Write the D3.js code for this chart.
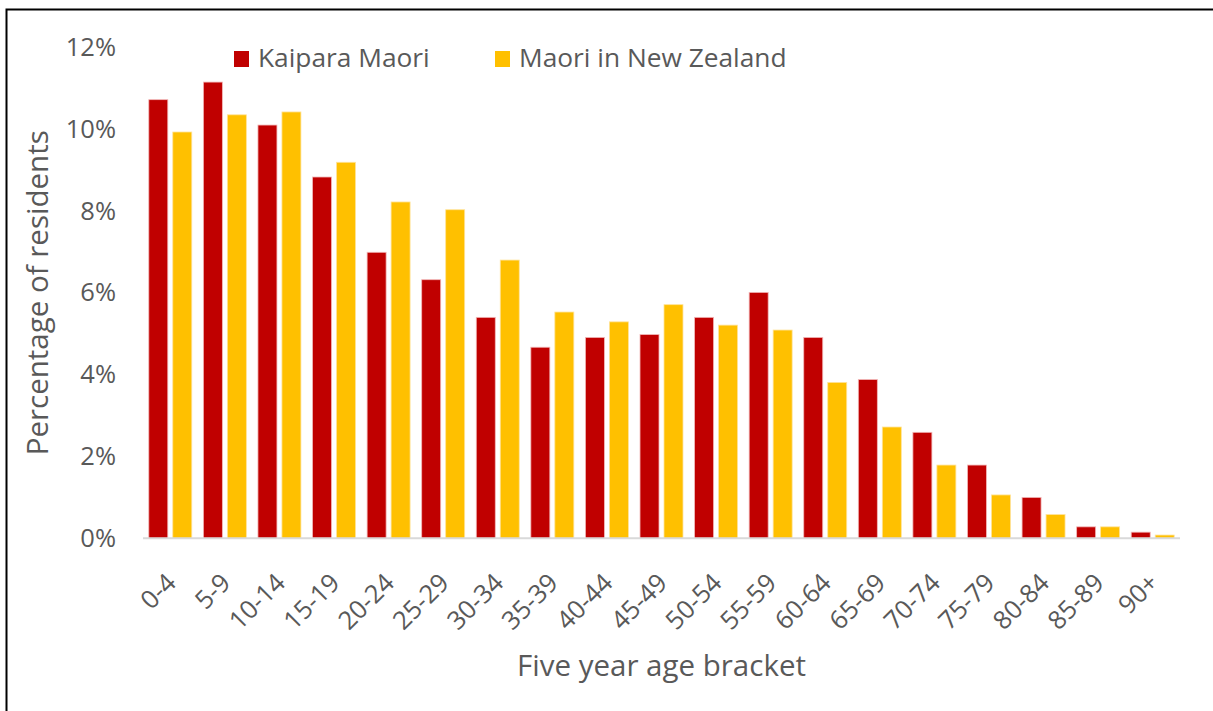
<!DOCTYPE html>
<html lang="en">
<head>
    <meta charset="UTF-8">
    <title>Kaipara Maori age structure</title>
    <style>
        body {
            margin: 0;
            background: #fff;
            font-family: "Open Sans", Arial, sans-serif;
        }
        svg text {
            fill: #595959;
        }
        .bar-k { fill: #C00000; stroke: #f2b8b8; stroke-width: 0.8; }
        .bar-m { fill: #FFC000; stroke: #ffe39a; stroke-width: 0.8; }
    </style>
</head>
<body>
    <svg id="chart" width="1213" height="711"></svg>

    <script src="https://d3js.org/d3.v7.min.js"></script>
    <script>
        // age brackets and the two series (% of residents)
        const ageBrackets = ['0-4', '5-9', '10-14', '15-19', '20-24', '25-29', '30-34', '35-39',
            '40-44', '45-49', '50-54', '55-59', '60-64', '65-69', '70-74', '75-79', '80-84', '85-89', '90+'];
        const kaiparaMaori = [10.72, 11.15, 10.10, 8.83, 6.99, 6.32, 5.40, 4.67, 4.91, 4.98,
            5.40, 6.01, 4.91, 3.88, 2.59, 1.79, 1.00, 0.28, 0.15];
        const maoriNZ = [9.93, 10.35, 10.42, 9.19, 8.22, 8.03, 6.80, 5.53, 5.29, 5.71,
            5.21, 5.09, 3.81, 2.72, 1.79, 1.06, 0.58, 0.28, 0.08];
        const seriesNames = ['Kaipara Maori', 'Maori in New Zealand'];
        const yTicks = [0, 2, 4, 6, 8, 10, 12];

        const svg = d3.select('#chart');

        // frame (top and left edges only are visible in the picture)
        svg.append('rect')
            .attr('x', 6.5).attr('y', 9.5)
            .attr('width', 1250).attr('height', 760)
            .attr('fill', 'none')
            .attr('stroke', '#000')
            .attr('stroke-width', 2);

        const plotLeft = 143, plotRight = 1180, plotTop = 47.3, plotBottom = 538.3;

        const x0 = d3.scaleBand()
            .domain(ageBrackets)
            .range([plotLeft, plotRight]);

        const pad = 5.8;
        const x1 = d3.scaleBand()
            .domain(['k', 'm'])
            .range([pad, x0.bandwidth() - pad])
            .paddingInner(0.208);

        const y = d3.scaleLinear()
            .domain([0, 12])
            .range([plotBottom, plotTop]);

        // bars
        const rows = ageBrackets.map((a, i) => ({ age: a, k: kaiparaMaori[i], m: maoriNZ[i] }));

        const groups = svg.append('g').selectAll('g')
            .data(rows)
            .enter().append('g')
            .attr('transform', d => 'translate(' + x0(d.age) + ',0)');

        groups.append('rect')
            .attr('class', 'bar-k')
            .attr('x', x1('k'))
            .attr('width', x1.bandwidth())
            .attr('y', d => y(d.k))
            .attr('height', d => y(0) - y(d.k));

        groups.append('rect')
            .attr('class', 'bar-m')
            .attr('x', x1('m'))
            .attr('width', x1.bandwidth())
            .attr('y', d => y(d.m))
            .attr('height', d => y(0) - y(d.m));

        // baseline
        svg.append('line')
            .attr('x1', plotLeft).attr('x2', plotRight)
            .attr('y1', y(0)).attr('y2', y(0))
            .attr('stroke', '#d9d9d9')
            .attr('stroke-width', 2);

        // y axis labels
        const yAxis = d3.axisLeft(y)
            .tickValues(yTicks)
            .tickSize(0)
            .tickPadding(0)
            .tickFormat(d => d + '%');

        const yg = svg.append('g')
            .attr('transform', 'translate(116,0)')
            .call(yAxis);
        yg.select('.domain').remove();
        yg.selectAll('text')
            .attr('font-family', '"Open Sans", Arial, sans-serif')
            .attr('font-size', 25.5)
            .attr('fill', '#595959');

        // x axis labels, rotated
        const xAxis = d3.axisBottom(x0)
            .tickSize(0)
            .tickPadding(0);

        const xg = svg.append('g')
            .attr('transform', 'translate(0,' + 578 + ')')
            .call(xAxis);
        xg.select('.domain').remove();
        xg.selectAll('text')
            .attr('font-family', '"Open Sans", Arial, sans-serif')
            .attr('font-size', 25.5)
            .attr('fill', '#595959')
            .attr('text-anchor', 'end')
            .attr('dy', '0.35em')
            .attr('transform', 'translate(1,0) rotate(-45)');

        // axis titles
        svg.append('text')
            .attr('x', (plotLeft + plotRight) / 2)
            .attr('y', 676)
            .attr('text-anchor', 'middle')
            .attr('font-size', 29.5)
            .text('Five year age bracket');

        svg.append('text')
            .attr('transform', 'translate(48,' + ((plotTop + plotBottom) / 2) + ') rotate(-90)')
            .attr('text-anchor', 'middle')
            .attr('font-size', 29.5)
            .text('Percentage of residents');

        // legend
        const legendX = [234, 495];
        const legend = svg.append('g');
        seriesNames.forEach((name, i) => {
            legend.append('rect')
                .attr('x', legendX[i]).attr('y', 51)
                .attr('width', 15).attr('height', 16)
                .attr('fill', i === 0 ? '#C00000' : '#FFC000');
            legend.append('text')
                .attr('x', legendX[i] + 24)
                .attr('y', 67)
                .attr('font-size', 26.3)
                .text(name);
        });
    </script>
</body>
</html>
